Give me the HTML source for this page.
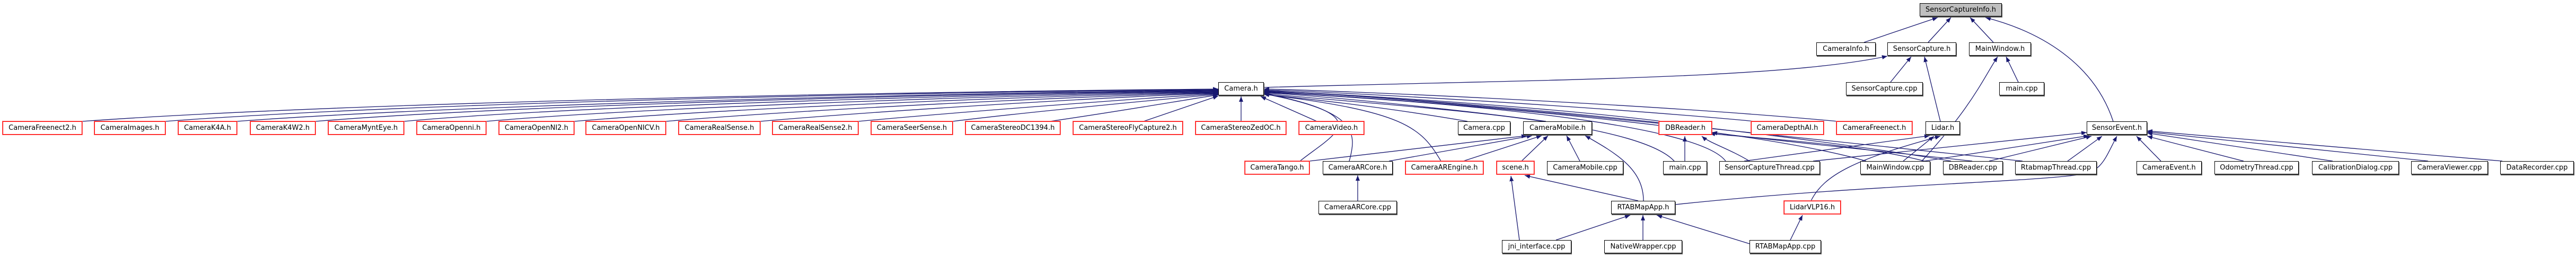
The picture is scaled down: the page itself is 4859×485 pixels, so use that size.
<!DOCTYPE html>
<html><head><meta charset="utf-8"><style>
html,body{margin:0;padding:0;background:#fff;}
#c{position:relative;width:4859px;height:485px;overflow:hidden;background:#fff;}
.n{position:absolute;height:25px;box-sizing:border-box;border:1px solid #000;background:#fff;font:13px "DejaVu Sans","Liberation Sans",sans-serif;line-height:23px;text-align:center;white-space:nowrap;color:#000;box-shadow:1px 2px 0 #555;}
.r{border-color:#ff0000;box-shadow:none;border-width:1px;outline:1px solid #ff6666;}
.g{background:#bfbfbf;}
svg{position:absolute;left:0;top:0;}
</style></head><body><div id="c">
<svg width="4859" height="485" viewBox="0 0 4859 485">
<defs><marker id="a" viewBox="0 0 10 10" refX="10" refY="5" markerWidth="10" markerHeight="10" markerUnits="userSpaceOnUse" orient="auto"><path d="M0,1 L10,5 L0,9 z" fill="#191970"/></marker></defs>
<g fill="none" stroke="#191970" stroke-width="1.3" marker-end="url(#a)">
<!-- to SensorCaptureInfo.h -->
<path d="M3516 80 L3655 33"/>
<path d="M3637 80 L3680 33"/>
<path d="M3760 80 L3716 33"/>
<path d="M3986 229 C3950 120 3850 60 3745 33"/>
<!-- to SensorCapture.h -->
<path d="M2384 165 C2900 150 3350 150 3560 106"/>
<path d="M3566 155 L3605 107"/>
<path d="M3660 229 L3630 107"/>
<!-- to MainWindow.h -->
<path d="M3625 304 C3720 200 3740 150 3768 107"/>
<path d="M3807 155 L3784 107"/>
<!-- to Camera.h from left -->
<path d="M155 229 C700 190 1800 172 2298 168"/>
<path d="M312 229 C800 192 1800 173 2298 169"/>
<path d="M447 229 C900 195 1900 174 2298 170"/>
<path d="M595 229 C1000 196 1900 175 2298 171"/>
<path d="M762 229 C1100 198 1950 176 2298 172"/>
<path d="M917 229 C1250 200 2000 177 2298 173"/>
<path d="M1083 229 C1400 202 2050 178 2298 174"/>
<path d="M1256 229 C1550 204 2100 179 2298 175"/>
<path d="M1434 229 C1700 206 2150 180 2298 176"/>
<path d="M1619 229 C1850 208 2200 182 2298 177"/>
<path d="M1797 229 C1950 210 2230 184 2298 178"/>
<path d="M1980 229 C2100 212 2250 186 2298 179"/>
<path d="M2157 229 L2298 181"/>
<path d="M2341 229 L2341 182"/>
<path d="M2484 229 L2378 182"/>
<!-- to Camera.h from right -->
<path d="M2768 229 C2600 200 2450 185 2384 178"/>
<path d="M2916 229 C2700 200 2450 178 2384 175"/>
<path d="M3135 229 C2900 200 2500 175 2384 172"/>
<path d="M3310 229 C3000 200 2500 172 2384 170"/>
<path d="M3466 229 C3100 195 2500 170 2384 168"/>
<path d="M3158 304 C3080 220 2600 200 2384 176"/>
<path d="M3255 304 C3200 230 2700 190 2384 174"/>
<path d="M3520 304 C3300 240 2700 190 2384 173"/>
<path d="M3680 304 C3300 240 2700 185 2384 172"/>
<path d="M3815 304 C3300 250 2700 185 2384 171"/>
<path d="M2452 304 C2520 250 2600 220 2384 176"/>
<path d="M2545 304 C2560 250 2560 210 2384 177"/>
<path d="M2718 304 C2680 240 2650 210 2384 178"/>
<!-- to CameraMobile.h -->
<path d="M2470 304 L2880 256"/>
<path d="M2620 304 L2890 256"/>
<path d="M2760 304 L2908 256"/>
<path d="M2870 304 L2920 256"/>
<path d="M2980 304 L2955 256"/>
<path d="M3100 379 C3100 320 3050 290 2990 256"/>
<!-- DBReader.h -->
<path d="M3178 304 L3178 257"/>
<path d="M3300 304 C3260 280 3225 270 3210 257"/>
<path d="M3630 304 C3500 270 3300 260 3225 252"/>
<path d="M3720 304 C3500 280 3300 260 3229 250"/>
<!-- Lidar.h -->
<path d="M3290 304 L3640 256"/>
<path d="M3590 304 L3648 257"/>
<path d="M3416 379 C3440 330 3500 300 3660 257"/>
<!-- to SensorEvent.h -->
<path d="M3420 304 L3936 250"/>
<path d="M3630 304 L3940 256"/>
<path d="M3752 304 L3945 257"/>
<path d="M3900 304 L3965 257"/>
<path d="M4076 304 L4030 257"/>
<path d="M4232 304 L4050 257"/>
<path d="M4400 304 L4050 251"/>
<path d="M4580 304 L4050 249"/>
<path d="M4720 304 L4050 247"/>
<path d="M3160 386 C3500 350 3800 345 3920 330 C3965 325 3970 300 3993 257"/>
<!-- lower -->
<path d="M2561 379 L2561 331"/>
<path d="M3090 379 L2876 331"/>
<path d="M2866 453 L2850 332"/>
<path d="M2935 453 L3075 406"/>
<path d="M3099 453 L3099 406"/>
<path d="M3300 460 L3125 406"/>
<path d="M3377 453 L3400 406"/>
</g></svg>
<div class="n g" style="left:3621px;top:6px;width:155px">SensorCaptureInfo.h</div>
<div class="n" style="left:3426px;top:80px;width:112px">CameraInfo.h</div>
<div class="n" style="left:3560px;top:80px;width:130px">SensorCapture.h</div>
<div class="n" style="left:3714px;top:80px;width:117px">MainWindow.h</div>
<div class="n" style="left:2298px;top:155px;width:86px">Camera.h</div>
<div class="n" style="left:3482px;top:155px;width:145px">SensorCapture.cpp</div>
<div class="n" style="left:3771px;top:155px;width:85px">main.cpp</div>
<div class="n r" style="left:5px;top:229px;width:150px">CameraFreenect2.h</div>
<div class="n r" style="left:178px;top:229px;width:134px">CameraImages.h</div>
<div class="n r" style="left:336px;top:229px;width:111px">CameraK4A.h</div>
<div class="n r" style="left:472px;top:229px;width:123px">CameraK4W2.h</div>
<div class="n r" style="left:619px;top:229px;width:143px">CameraMyntEye.h</div>
<div class="n r" style="left:786px;top:229px;width:131px">CameraOpenni.h</div>
<div class="n r" style="left:941px;top:229px;width:142px">CameraOpenNI2.h</div>
<div class="n r" style="left:1105px;top:229px;width:151px">CameraOpenNICV.h</div>
<div class="n r" style="left:1280px;top:229px;width:154px">CameraRealSense.h</div>
<div class="n r" style="left:1457px;top:229px;width:162px">CameraRealSense2.h</div>
<div class="n r" style="left:1643px;top:229px;width:154px">CameraSeerSense.h</div>
<div class="n r" style="left:1821px;top:229px;width:179px">CameraStereoDC1394.h</div>
<div class="n r" style="left:2024px;top:229px;width:207px">CameraStereoFlyCapture2.h</div>
<div class="n r" style="left:2255px;top:229px;width:171px">CameraStereoZedOC.h</div>
<div class="n r" style="left:2450px;top:229px;width:123px">CameraVideo.h</div>
<div class="n" style="left:2750px;top:229px;width:99px">Camera.cpp</div>
<div class="n" style="left:2873px;top:229px;width:130px">CameraMobile.h</div>
<div class="n r" style="left:3129px;top:229px;width:100px">DBReader.h</div>
<div class="n r" style="left:3303px;top:229px;width:137px">CameraDepthAI.h</div>
<div class="n r" style="left:3464px;top:229px;width:143px">CameraFreenect.h</div>
<div class="n" style="left:3632px;top:229px;width:65px">Lidar.h</div>
<div class="n" style="left:3936px;top:229px;width:114px">SensorEvent.h</div>
<div class="n r" style="left:2348px;top:304px;width:122px">CameraTango.h</div>
<div class="n" style="left:2495px;top:304px;width:132px">CameraARCore.h</div>
<div class="n r" style="left:2651px;top:304px;width:147px">CameraAREngine.h</div>
<div class="n r" style="left:2823px;top:304px;width:71px">scene.h</div>
<div class="n" style="left:2918px;top:304px;width:144px">CameraMobile.cpp</div>
<div class="n" style="left:3137px;top:304px;width:83px">main.cpp</div>
<div class="n" style="left:3243px;top:304px;width:190px">SensorCaptureThread.cpp</div>
<div class="n" style="left:3509px;top:304px;width:132px">MainWindow.cpp</div>
<div class="n" style="left:3665px;top:304px;width:113px">DBReader.cpp</div>
<div class="n" style="left:3801px;top:304px;width:154px">RtabmapThread.cpp</div>
<div class="n" style="left:4030px;top:304px;width:123px">CameraEvent.h</div>
<div class="n" style="left:4177px;top:304px;width:159px">OdometryThread.cpp</div>
<div class="n" style="left:4361px;top:304px;width:164px">CalibrationDialog.cpp</div>
<div class="n" style="left:4548px;top:304px;width:145px">CameraViewer.cpp</div>
<div class="n" style="left:4716px;top:304px;width:139px">DataRecorder.cpp</div>
<div class="n" style="left:2487px;top:379px;width:148px">CameraARCore.cpp</div>
<div class="n" style="left:3039px;top:379px;width:121px">RTABMapApp.h</div>
<div class="n r" style="left:3365px;top:379px;width:107px">LidarVLP16.h</div>
<div class="n" style="left:2833px;top:453px;width:131px">jni_interface.cpp</div>
<div class="n" style="left:3026px;top:453px;width:147px">NativeWrapper.cpp</div>
<div class="n" style="left:3300px;top:453px;width:135px">RTABMapApp.cpp</div>
</div></body></html>
